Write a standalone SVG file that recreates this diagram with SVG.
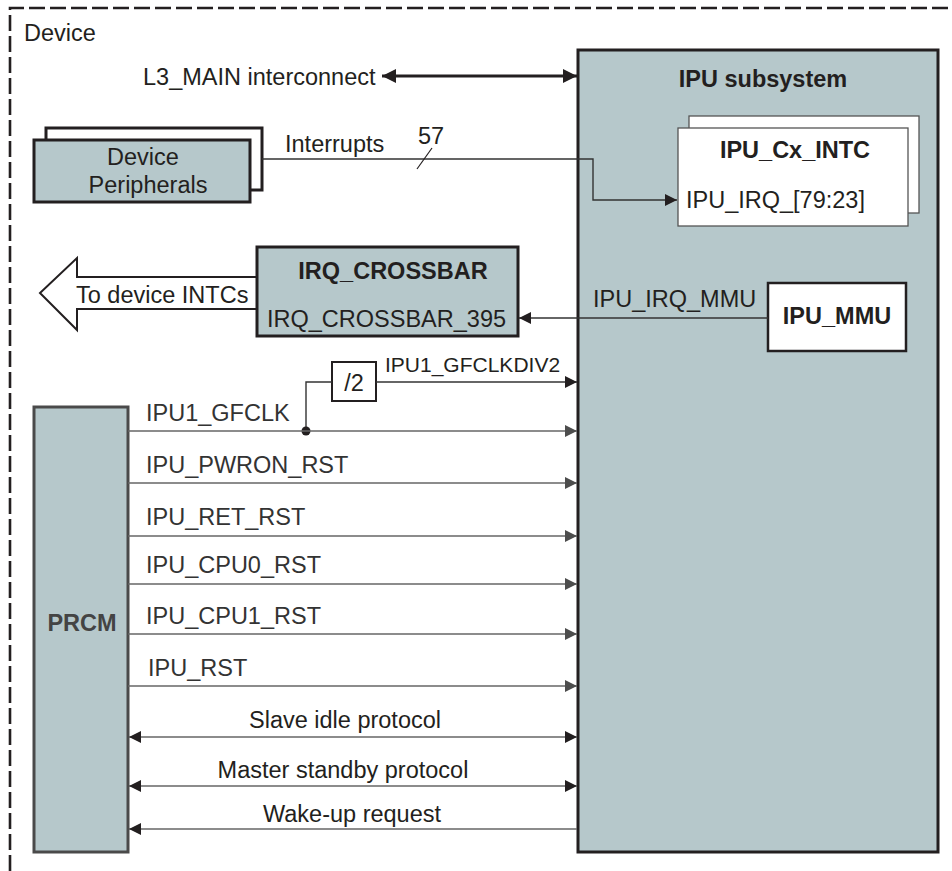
<svg xmlns="http://www.w3.org/2000/svg" width="952" height="871" viewBox="0 0 952 871">
<style>
text{font-family:"Liberation Sans",Arial,sans-serif;font-size:23.5px;fill:#231f20}
.b{font-weight:bold}
.m{text-anchor:middle}
.sig{fill:#333}
.blk{fill:#b6c8cb;stroke:#231f20;stroke-width:3}
.wbox{fill:#fff;stroke:#555;stroke-width:1.3}
.ln{fill:none;stroke:#666;stroke-width:1.6}
.dk{fill:none;stroke:#333;stroke-width:1.4}
</style>
<defs>
<marker id="ag" markerUnits="userSpaceOnUse" markerWidth="14" markerHeight="14" refX="12" refY="6" orient="auto-start-reverse" viewBox="0 0 14 12"><path d="M0,0 L12,6 L0,12 Z" fill="#4d4d4d"/></marker>
<marker id="ab" markerUnits="userSpaceOnUse" markerWidth="14" markerHeight="14" refX="12" refY="6" orient="auto-start-reverse" viewBox="0 0 14 12"><path d="M0,0 L12,6 L0,12 Z" fill="#231f20"/></marker>
<marker id="aL" markerUnits="userSpaceOnUse" markerWidth="16" markerHeight="14" refX="14" refY="7" orient="auto-start-reverse" viewBox="0 0 16 14"><path d="M0,0 L14,7 L0,14 Z" fill="#231f20"/></marker>
</defs>
<rect width="952" height="871" fill="#fff"/>
<g id="device-frame">
<path d="M10,871 L10,8 L952,8" fill="none" stroke="#231f20" stroke-width="2.6" stroke-dasharray="16,5"/>
<text x="24" y="41">Device</text>
</g>
<g id="ipu-subsystem">
<rect class="blk" x="578" y="50" width="360" height="802"/>
<text class="b m" x="763" y="87">IPU subsystem</text>
</g>
<g id="ipu-cx-intc">
<rect class="wbox" x="689" y="116" width="230" height="97"/>
<rect class="wbox" x="678" y="128" width="230" height="98"/>
<text class="b m" x="795" y="158">IPU_Cx_INTC</text>
<text x="686" y="208">IPU_IRQ_[79:23]</text>
</g>
<g id="ipu-mmu">
<rect x="768" y="283" width="138" height="68" fill="#fff" stroke="#231f20" stroke-width="2.5"/>
<text class="b m" x="837" y="324">IPU_MMU</text>
</g>
<g id="device-peripherals">
<rect x="46" y="128" width="216" height="62" fill="#fff" stroke="#231f20" stroke-width="3"/>
<rect class="blk" x="34" y="140" width="216" height="62"/>
<text class="m" x="143" y="165">Device</text>
<text class="m" x="148" y="193">Peripherals</text>
</g>
<g id="to-device-intcs">
<path d="M257,277 L77,277 L77,258 L40,293 L77,330 L77,309 L257,309" fill="#fff" stroke="#231f20" stroke-width="2"/>
<text x="76" y="303">To device INTCs</text>
</g>
<g id="irq-crossbar">
<rect class="blk" x="257" y="247" width="261" height="89"/>
<text class="b m" x="393" y="279">IRQ_CROSSBAR</text>
<text x="267" y="327">IRQ_CROSSBAR_395</text>
</g>
<g id="prcm">
<rect x="34" y="407" width="94" height="445" fill="#b6c8cb" stroke="#4a4a4a" stroke-width="3"/>
<text class="b m" x="82" y="631" style="fill:#444">PRCM</text>
</g>
<g id="div2">
<rect x="332" y="362" width="44" height="39" fill="#fff" stroke="#231f20" stroke-width="2"/>
<text class="m" x="354" y="391">/2</text>
</g>
<g id="connectors">
<line x1="382" y1="76" x2="577" y2="76" stroke="#231f20" stroke-width="3" marker-start="url(#aL)" marker-end="url(#aL)"/>
<polyline class="dk" points="262,159 593,159 593,200 677,200" marker-end="url(#ab)"/>
<line x1="417" y1="169" x2="432" y2="148" stroke="#231f20" stroke-width="1.2"/>
<line class="dk" x1="768" y1="318" x2="519" y2="318" marker-end="url(#ab)"/>
<polyline class="dk" points="306,431 306,382 332,382"/>
<line class="dk" x1="376" y1="382" x2="577" y2="382" marker-end="url(#ab)"/>
<circle cx="306" cy="431" r="4.5" fill="#231f20"/>
<line class="ln" x1="128" y1="431" x2="577" y2="431" marker-end="url(#ag)"/>
<line class="ln" x1="128" y1="483" x2="577" y2="483" marker-end="url(#ag)"/>
<line class="ln" x1="128" y1="536" x2="577" y2="536" marker-end="url(#ag)"/>
<line class="ln" x1="128" y1="584" x2="577" y2="584" marker-end="url(#ag)"/>
<line class="ln" x1="128" y1="634" x2="577" y2="634" marker-end="url(#ag)"/>
<line class="ln" x1="128" y1="686" x2="577" y2="686" marker-end="url(#ag)"/>
<line class="ln" x1="129" y1="737" x2="577" y2="737" marker-start="url(#ab)" marker-end="url(#ab)"/>
<line class="ln" x1="129" y1="786" x2="577" y2="786" marker-start="url(#ab)" marker-end="url(#ab)"/>
<line class="ln" x1="577" y1="829" x2="129" y2="829" marker-end="url(#ab)"/>
</g>
<g id="labels">
<text x="143" y="85">L3_MAIN interconnect</text>
<text x="285" y="152">Interrupts</text>
<text x="418" y="144">57</text>
<text x="593" y="307">IPU_IRQ_MMU</text>
<text x="385" y="372" style="font-size:21px">IPU1_GFCLKDIV2</text>
<text class="sig" x="146" y="421">IPU1_GFCLK</text>
<text class="sig" x="146" y="473">IPU_PWRON_RST</text>
<text class="sig" x="146" y="525">IPU_RET_RST</text>
<text class="sig" x="146" y="573">IPU_CPU0_RST</text>
<text class="sig" x="146" y="624">IPU_CPU1_RST</text>
<text class="sig" x="148" y="676">IPU_RST</text>
<text class="m" x="345" y="728">Slave idle protocol</text>
<text class="m" x="343" y="778">Master standby protocol</text>
<text class="m" x="352" y="822">Wake-up request</text>
</g>
</svg>
